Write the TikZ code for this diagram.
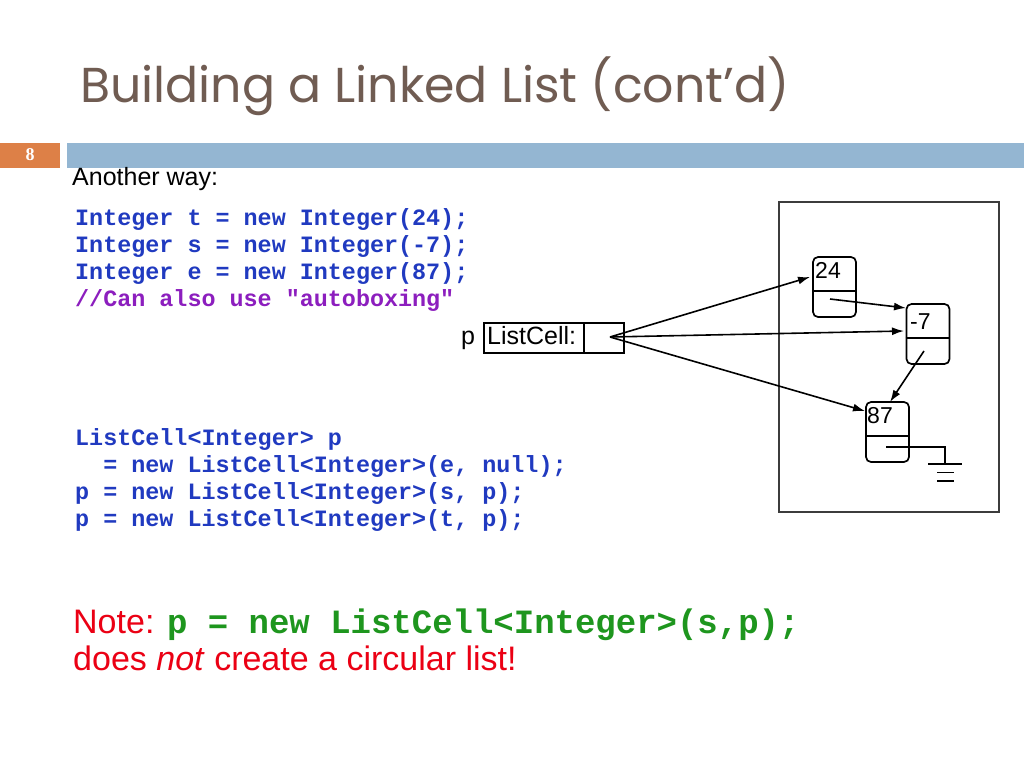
\documentclass[tikz,border=0pt]{standalone}
\usepackage{fontspec}
\setmainfont{Liberation Sans}
\setmonofont{Liberation Mono}
\newfontfamily\titlefont{Poppins}
\newfontfamily\numfont{Liberation Serif}
\usetikzlibrary{arrows.meta}
\definecolor{titlecol}{RGB}{112,92,82}
\definecolor{orangebar}{RGB}{221,128,71}
\definecolor{bluebar}{RGB}{148,182,210}
\definecolor{codeblue}{RGB}{32,58,192}
\definecolor{codepurple}{RGB}{140,30,190}
\definecolor{notered}{RGB}{235,0,20}
\definecolor{notegreen}{RGB}{30,150,30}
\definecolor{framegray}{RGB}{60,60,60}
\tikzset{
  code/.style={anchor=base west, inner sep=0pt, font=\ttfamily\bfseries\fontsize{23.4}{27}\selectfont, text=codeblue},
  lbl/.style={anchor=base west, inner sep=0pt, font=\fontsize{25}{28}\selectfont},
  cell/.style={draw, rounded corners=5pt, line width=1.7pt, minimum width=43pt, minimum height=60pt, inner sep=0pt},
  ptr/.style={line width=1.6pt, -{Latex[length=12pt,width=8pt]}},
  wire/.style={line width=1.6pt}
}
\begin{document}
\begin{tikzpicture}[x=1pt,y=-1pt]
\useasboundingbox (0,0) rectangle (1024,768);
\fill[white] (0,0) rectangle (1024,768);
% title
\node[anchor=base west, inner sep=0pt, text=titlecol, font=\titlefont\fontsize{49}{60}\selectfont] (title) at (80,102) {Building a Linked List (cont’d)};
% bars
\fill[orangebar] (0,143) rectangle (60,168);
\fill[bluebar] (67,143) rectangle (1024,168);
\node[text=white, font=\numfont\bfseries\fontsize{18}{18}\selectfont] (num) at (30,155) {8};
% text
\node[lbl] (another) at (72,185) {Another way:};
\node[code] (c1) at (75,225) {Integer t = new Integer(24);};
\node[code] (c2) at (75,252) {Integer s = new Integer(-7);};
\node[code] (c3) at (75,279) {Integer e = new Integer(87);};
\node[code, text=codepurple] (c4) at (75,306) {//Can also use "autoboxing"};
\node[code] (d1) at (75,445) {ListCell<Integer> p};
\node[code] (d2) at (75,472) {\hphantom{xx}= new ListCell<Integer>(e, null);};
\node[code] (d3) at (75,499) {p = new ListCell<Integer>(s, p);};
\node[code] (d4) at (75,526) {p = new ListCell<Integer>(t, p);};
\node[anchor=base west, inner sep=0pt, text=notered, font=\fontsize{34}{40}\selectfont] (note) at (73,633) {Note: \textcolor{notegreen}{\ttfamily\bfseries\fontsize{34}{40}\selectfont p = new ListCell<Integer>(s,p);}};
\node[anchor=base west, inner sep=0pt, text=notered, font=\fontsize{34}{40}\selectfont] (note2) at (73,670) {does \textit{not} create a circular list!};
% p ListCell box
\node[lbl] (p) at (461,344) {p};
\node[draw, line width=1.4pt, minimum width=140pt, minimum height=30pt, inner sep=0pt] (pbox) at (554,338) {};
\draw[line width=1.4pt] (584,323) -- (584,353);
\node[lbl] (lc) at (487,344) {ListCell:};
\coordinate (porig) at (610,337);
% frame
\node[draw=framegray, line width=2pt, minimum width=220pt, minimum height=310pt, inner sep=0pt] (frame) at (889,357) {};
% cells
\node[cell] (n24) at (834.5,287) {};
\draw[wire] (n24.west |- 0,291) -- (n24.east |- 0,291);
\node[lbl, font=\fontsize{23}{26}\selectfont] (t24) at (815,278) {24};
\node[cell] (n7) at (928,334) {};
\draw[wire] (n7.west |- 0,338) -- (n7.east |- 0,338);
\node[lbl, font=\fontsize{23}{26}\selectfont] (t7) at (910,329) {-7};
\node[cell] (n87) at (887.5,432) {};
\draw[wire] (n87.west |- 0,436) -- (n87.east |- 0,436);
\node[lbl, font=\fontsize{23}{26}\selectfont] (t87) at (867,423) {87};
% pointers
\coordinate (a24) at (810,277);
\coordinate (a7) at (904,331);
\coordinate (a87) at (865,411);
\draw[ptr] (porig) -- (a24);
\draw[ptr] (porig) -- (a7);
\draw[ptr] (porig) -- (a87);
\coordinate (o24) at (830,299);
\coordinate (b7) at (906,308);
\draw[ptr] (o24) -- (b7);
\coordinate (o7) at (924,351);
\coordinate (b87) at (890,402);
\draw[ptr] (o7) -- (b87);
% null / ground
\coordinate (o87) at (886,447);
\coordinate (gnd) at (945,464);
\draw[wire] (o87) -- (gnd |- o87) -- (gnd);
\draw[wire] (928,464) -- (962,464);
\draw[wire] (937,472.5) -- (954,472.5);
\draw[wire] (937,481) -- (954,481);
\end{tikzpicture}
\end{document}
